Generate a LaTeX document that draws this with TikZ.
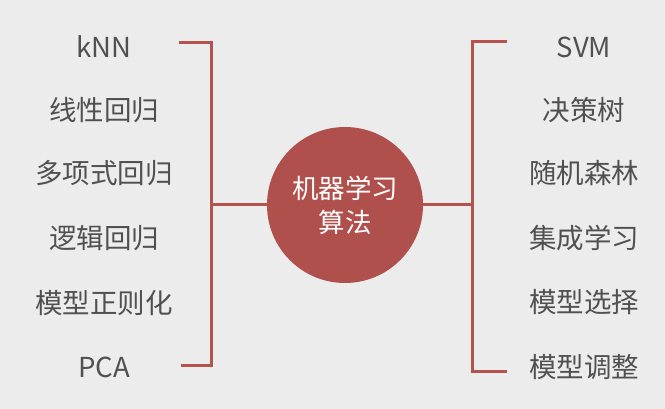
\documentclass[tikz,border=0pt]{standalone}
\usepackage{fontspec}
\setmainfont{Noto Sans CJK SC}
\definecolor{bg}{HTML}{ECECEC}
\definecolor{brick}{HTML}{B0504C}
\definecolor{linec}{HTML}{B4524E}
\definecolor{txt}{HTML}{505050}
\begin{document}
\begin{tikzpicture}[x=1pt,y=-1pt,
  lbl/.style={text=txt,font=\fontsize{27.5}{32}\selectfont,inner sep=0pt,anchor=center},
  brk/.style={draw=linec,line width=3pt,line join=miter,line cap=butt}]
\fill[bg] (0,0) rectangle (665,409);
\useasboundingbox (0,0) rectangle (665,409);
% centre
\node[circle,fill=brick,minimum size=156pt,inner sep=0pt,text=white,
  font=\fontsize{26.5}{34}\selectfont,align=center] (c) at (345,205) {机器学习\\算法};
% left labels
\node[lbl] (l1) at (104,47) {kNN};
\node[lbl] (l2) at (104,110) {线性回归};
\node[lbl] (l3) at (104,173) {多项式回归};
\node[lbl] (l4) at (104,238) {逻辑回归};
\node[lbl] (l5) at (104,303) {模型正则化};
\node[lbl] (l6) at (104,367) {PCA};
% right labels
\node[lbl] (r1) at (584,47) {SVM};
\node[lbl] (r2) at (584,110) {决策树};
\node[lbl] (r3) at (584,173) {随机森林};
\node[lbl] (r4) at (584,238) {集成学习};
\node[lbl] (r5) at (584,302) {模型选择};
\node[lbl] (r6) at (584,367) {模型调整};
% bracket coordinates
\coordinate (lt) at (179,43);
\coordinate (lb) at (181,365);
\coordinate (rt) at (507,42);
\coordinate (rb) at (507,371);
% left bracket
\draw[brk] (lt) -- (211,43) -- (211,365) -- (lb);
\draw[brk] (c.west) -- (c.west -| 211,0);
% right bracket
\draw[brk] (rt) -- (472,42) -- (472,371) -- (rb);
\draw[brk] (c.east) -- (c.east -| 472,0);
\end{tikzpicture}
\end{document}
